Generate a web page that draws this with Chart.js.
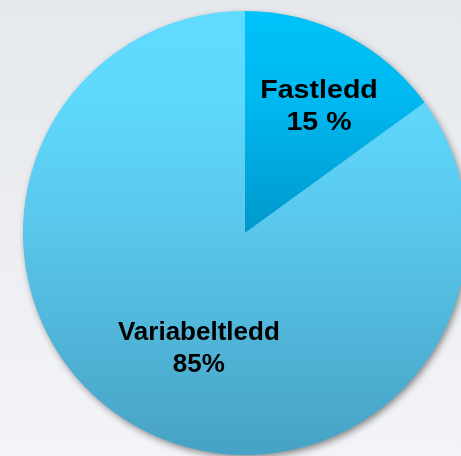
<!DOCTYPE html>
<html>
<head>
<meta charset="utf-8">
<script src="https://cdn.jsdelivr.net/npm/chart.js@4/dist/chart.umd.min.js"></script>
<style>
  html, body { margin: 0; padding: 0; width: 461px; height: 456px; overflow: hidden; }
  body { background: linear-gradient(to bottom, #e5e8ec 0%, #eceef1 50%, #f3f4f7 100%); }
  #wrap { position: absolute; left: 0; top: 0; width: 467px; height: 456px; }
</style>
</head>
<body>
<div id="wrap"><canvas id="c"></canvas></div>
<script>
const categories = ['Fastledd', 'Variabeltledd'];
const values = [15, 85];
const valueLabels = ['15 %', '85%'];

// gradient stops per slice (offset, colour), top -> bottom of pie
const gradStops = [
  [[0, '#00c2fa'], [0.2, '#00b8f0'], [0.5, '#0098cc'], [1, '#00709e']],
  [[0, '#60daff'], [0.2, '#5fd8fd'], [0.5, '#59c6ea'], [1, '#47a2c5']]
];

// label placement styling: angle offset (deg), radius fraction, horizontal text scale
const labelStyle = [
  { dAngle: 3, rFrac: 0.667, sx: 1.1 },
  { dAngle: -5, rFrac: 0.555, sx: 1.0 }
];

function sliceGradient(ctx) {
  const chart = ctx.chart;
  const a = chart.chartArea;
  const stops = gradStops[ctx.dataIndex];
  if (!a) return stops[0][1];
  const g = chart.ctx.createLinearGradient(0, a.top, 0, a.bottom);
  stops.forEach(s => g.addColorStop(s[0], s[1]));
  return g;
}

const shadowPlugin = {
  id: 'pieShadow',
  beforeDatasetsDraw(chart) {
    const arc = chart.getDatasetMeta(0).data[0];
    if (!arc) return;
    const ctx = chart.ctx;
    ctx.save();
    ctx.shadowColor = 'rgba(0,0,0,0.45)';
    ctx.shadowBlur = 7;
    ctx.shadowOffsetX = 2;
    ctx.shadowOffsetY = 3;
    ctx.fillStyle = '#52b5d8';
    ctx.beginPath();
    ctx.arc(arc.x, arc.y, arc.outerRadius - 0.5, 0, Math.PI * 2);
    ctx.fill();
    ctx.restore();
  }
};

const labelPlugin = {
  id: 'sliceLabels',
  afterDatasetsDraw(chart) {
    const meta = chart.getDatasetMeta(0);
    const ctx = chart.ctx;
    ctx.save();
    ctx.fillStyle = '#000000';
    ctx.font = 'bold 26px "Liberation Sans", Arial, sans-serif';
    ctx.textAlign = 'center';
    ctx.textBaseline = 'alphabetic';
    meta.data.forEach((arc, i) => {
      const st = labelStyle[i];
      const mid = (arc.startAngle + arc.endAngle) / 2 + st.dAngle * Math.PI / 180;
      const r = arc.outerRadius * st.rFrac;
      const cx = arc.x + Math.cos(mid) * r;
      const cy = arc.y + Math.sin(mid) * r;
      ctx.save();
      ctx.translate(cx, cy);
      ctx.scale(st.sx, 1);
      ctx.fillText(categories[i], 0, -7);
      ctx.fillText(valueLabels[i], 0, 25);
      ctx.restore();
    });
    ctx.restore();
  }
};

new Chart(document.getElementById('c'), {
  type: 'pie',
  data: {
    labels: categories,
    datasets: [{
      data: values,
      backgroundColor: sliceGradient,
      borderWidth: 0,
      hoverOffset: 0
    }]
  },
  options: {
    responsive: true,
    maintainAspectRatio: false,
    animation: false,
    layout: { padding: { left: 23, top: 11, right: 0, bottom: 1 } },
    plugins: {
      legend: { display: false },
      tooltip: { enabled: false },
      title: { display: false }
    },
    events: []
  },
  plugins: [shadowPlugin, labelPlugin]
});
</script>
</body>
</html>
